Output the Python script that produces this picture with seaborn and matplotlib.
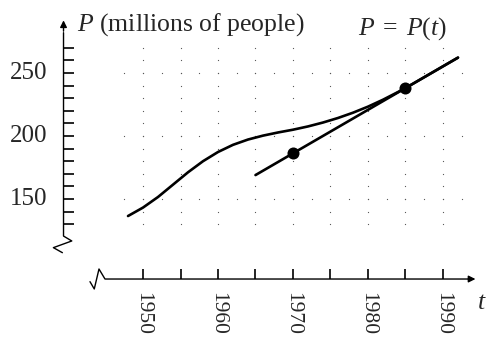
import matplotlib
matplotlib.use("Agg")
import matplotlib.pyplot as plt
import numpy as np
import pandas as pd
import seaborn as sns

# data
years = [1948, 1950, 1952, 1954, 1956, 1958, 1960, 1962, 1964, 1966, 1968, 1970,
         1972, 1974, 1976, 1978, 1980, 1982, 1984, 1985, 1986, 1988, 1990, 1992]
population = [136.5, 143.2, 151.6, 161.4, 171.2, 180.0, 187.3, 193.0, 197.2, 200.3, 202.8, 205.0,
              207.6, 210.7, 214.3, 218.5, 223.3, 228.8, 234.9, 238.1, 241.5, 248.4, 255.3, 262.2]
tangent_years = [1965, 1992]
tangent_pop = [169.0, 262.2]
point_years = [1970, 1985]
point_pop = [186.2, 238.0]

x_ticks = [1950, 1955, 1960, 1965, 1970, 1975, 1980, 1985, 1990]
x_labels = ["1950", "1960", "1970", "1980", "1990"]
y_ticks = list(range(130, 280, 10))
y_labels = [150, 200, 250]

sns.set_style("white")
plt.rcParams["font.family"] = ["Liberation Serif", "DejaVu Serif"]
plt.rcParams["mathtext.fontset"] = "custom"
plt.rcParams["mathtext.rm"] = "Liberation Serif"
plt.rcParams["mathtext.it"] = "Liberation Serif:italic"

fig = plt.figure(figsize=(4.87, 3.39), dpi=100)
ax = fig.add_axes([0, 0, 1, 1])

# axis positions (broken axes)
y_axis_t = 1939.4
x_axis_p = 86.5

# dotted grid
gx = [x for x in x_ticks for p in y_ticks]
gy = [p for x in x_ticks for p in y_ticks]
ax.scatter(gx, gy, s=0.8, color="#555555", linewidths=0, zorder=1)
row_x = np.arange(1947.5, 1993, 2.5)
for p in y_labels:
    ax.scatter(row_x, [p] * len(row_x), s=0.8, color="#555555", linewidths=0, zorder=1)

# y axis with break
ax.plot([y_axis_t, y_axis_t, 1940.5, 1938.05, 1939.25],
        [282, 120.6, 116.7, 111.4, 107.4], color="black", lw=1.0, zorder=2)
ax.annotate("", xy=(y_axis_t, 294), xytext=(y_axis_t, 281),
            arrowprops=dict(arrowstyle="-|>", color="black", lw=1.0, mutation_scale=10))
ax.plot([y_axis_t] * len(y_ticks), y_ticks, linestyle="none", marker=1,
        markersize=7, markeredgewidth=1.2, color="black")
for v in y_labels:
    ax.text(1937.2, v, str(v), ha="right", va="center", fontsize=18)

# x axis with break
ax.plot([1994.0, 1944.93, 1944.13, 1943.5, 1942.93],
        [x_axis_p, x_axis_p, 94.45, 78.6, 84.4], color="black", lw=1.0, zorder=2)
ax.annotate("", xy=(1994.7, x_axis_p), xytext=(1993.0, x_axis_p),
            arrowprops=dict(arrowstyle="-|>", color="black", lw=1.0, mutation_scale=10))
ax.plot(x_ticks, [x_axis_p] * len(x_ticks), linestyle="none", marker=2,
        markersize=7.2, markeredgewidth=1.2, color="black")
for lab in x_labels:
    ax.text(int(lab), 76.5, lab, ha="center", va="top", rotation=-90, fontsize=15.5)

# curve, tangent, points
curve = pd.DataFrame({"year": years, "P": population})
tangent = pd.DataFrame({"year": tangent_years, "P": tangent_pop})
points = pd.DataFrame({"year": point_years, "P": point_pop})
sns.lineplot(data=curve, x="year", y="P", ax=ax, color="black", lw=1.9,
             sort=False, estimator=None, solid_joinstyle="round", zorder=3)
sns.lineplot(data=tangent, x="year", y="P", ax=ax, color="black", lw=1.9,
             sort=False, estimator=None, zorder=3)
sns.scatterplot(data=points, x="year", y="P", ax=ax, color="black", s=75,
                linewidth=0, zorder=4)
ax.set_xlim(1930.93, 1995.87)
ax.set_ylim(38.9, 307.94)
ax.axis("off")

# labels
ax.text(1941.2, 283.3, "$P$ (millions of people)", ha="left", va="baseline", fontsize=18.5)
ax.text(1978.7, 280.2, "$P\\;=\\;P(t)$", ha="left", va="baseline", fontsize=18.5)
ax.text(1995.2, 67.5, "$t$", ha="center", va="center", fontsize=18.5)

fig.savefig("out.png", dpi=100)
